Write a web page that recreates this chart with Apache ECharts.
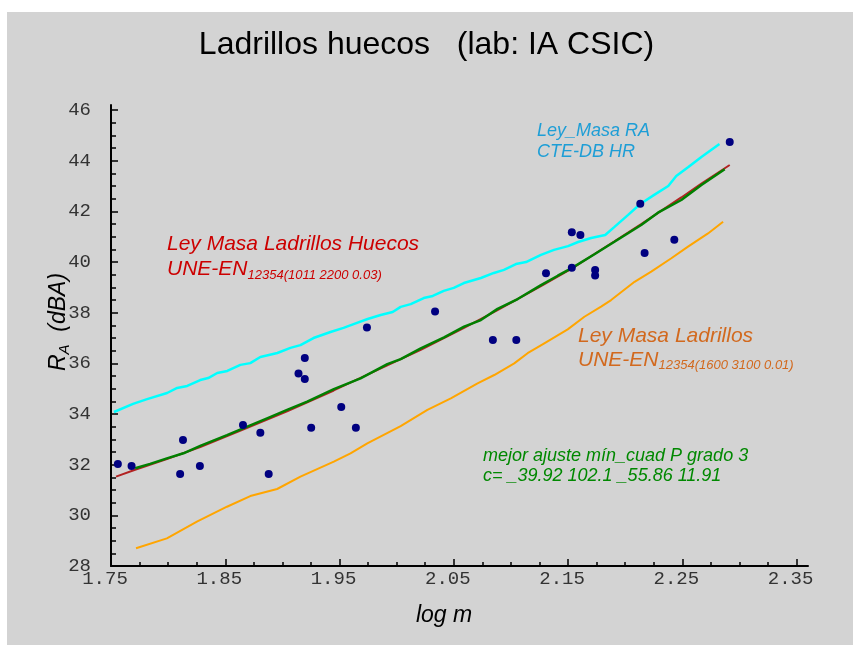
<!DOCTYPE html>
<html>
<head>
<meta charset="utf-8">
<title>Ladrillos huecos</title>
<script src="https://cdn.jsdelivr.net/npm/echarts@6/dist/echarts.min.js"></script>
<style>
  html, body { margin: 0; padding: 0; background: #fff; }
  #main { width: 853px; height: 645px; }
</style>
</head>
<body>
<div id="main"></div>
<script>
// ensayos de laboratorio: [log m, R_A dBA]
var medidas = [
  [1.756, 32.03], [1.768, 31.95], [1.8105, 31.63], [1.813, 32.97], [1.8278, 31.95],
  [1.8655, 33.57], [1.8807, 33.26], [1.888, 31.63], [1.9141, 35.6], [1.9196, 36.21],
  [1.9196, 35.38], [1.9252, 33.46], [1.9515, 34.28], [1.9643, 33.46], [1.974, 37.42],
  [2.0336, 38.05], [2.0842, 36.92], [2.1047, 36.92], [2.1307, 39.56], [2.1533, 41.18],
  [2.1533, 39.77], [2.1608, 41.07], [2.1737, 39.69], [2.1737, 39.47], [2.2132, 42.3],
  [2.217, 40.36], [2.243, 40.88], [2.2915, 44.74]
];

// Ley_Masa RA  CTE-DB HR
var leyCTE = [
  [1.7526, 34.08], [1.7693, 34.4], [1.7816, 34.59], [1.7991, 34.83], [1.8079, 35.03],
  [1.8167, 35.11], [1.8281, 35.34], [1.8351, 35.42], [1.843, 35.62], [1.8518, 35.7],
  [1.8632, 35.94], [1.8719, 36.01], [1.8807, 36.25], [1.8956, 36.41], [1.907, 36.61],
  [1.9158, 36.72], [1.9272, 37.0], [1.9421, 37.24], [1.9535, 37.4], [1.9623, 37.55],
  [1.9746, 37.75], [1.986, 37.91], [1.9965, 38.03], [2.0035, 38.23], [2.0123, 38.34],
  [2.0237, 38.58], [2.0316, 38.66], [2.0412, 38.86], [2.05, 38.98], [2.0588, 39.17],
  [2.0737, 39.37], [2.0851, 39.57], [2.0939, 39.69], [2.1044, 39.92], [2.1132, 40.0],
  [2.1263, 40.28], [2.1377, 40.48], [2.15, 40.63], [2.1588, 40.79], [2.1702, 40.95],
  [2.1825, 41.07], [2.1904, 41.38], [2.2026, 41.86], [2.2132, 42.29], [2.2254, 42.65],
  [2.2377, 43.0], [2.2447, 43.4], [2.2553, 43.75], [2.2667, 44.15], [2.2825, 44.66]
];

// Ley Masa Ladrillos UNE-EN 12354 (1600 3100 0.01)
var leyLadrillos = [
  [1.7719, 28.7], [1.7989, 29.09], [1.8252, 29.75], [1.8515, 30.34], [1.8719, 30.76],
  [1.8954, 31.04], [1.9158, 31.53], [1.945, 32.12], [1.9596, 32.45], [1.9743, 32.84],
  [2.0035, 33.52], [2.0269, 34.16], [2.0474, 34.62], [2.0708, 35.21], [2.0854, 35.54],
  [2.1029, 36.0], [2.1146, 36.4], [2.1292, 36.79], [2.1497, 37.34], [2.1643, 37.84],
  [2.1789, 38.24], [2.1877, 38.5], [2.2082, 39.22], [2.2228, 39.62], [2.2404, 40.15],
  [2.255, 40.61], [2.2725, 41.13], [2.2857, 41.59]
];

// Ley Masa Ladrillos Huecos UNE-EN 12354 (1011 2200 0.03)
var leyHuecos = [
  [1.7544, 31.53], [1.7711, 31.8], [1.7989, 32.22], [1.8281, 32.7], [1.8661, 33.4],
  [1.9041, 34.11], [1.945, 34.93], [1.9918, 35.92], [2.0211, 36.53], [2.059, 37.4],
  [2.0883, 38.1], [2.1263, 39.05], [2.1532, 39.74], [2.1906, 40.82], [2.214, 41.5],
  [2.2491, 42.55], [2.2667, 43.1], [2.2915, 43.83]
];

// mejor ajuste min_cuad P grado 3
var ajusteP3 = [
  [1.7711, 31.86], [1.7842, 32.03], [1.7989, 32.25], [1.8134, 32.45], [1.8281, 32.74],
  [1.8515, 33.17], [1.8661, 33.44], [1.8866, 33.83], [1.9041, 34.16], [1.9217, 34.49],
  [1.945, 34.98], [1.9684, 35.41], [1.9918, 35.97], [2.0035, 36.17], [2.0211, 36.59],
  [2.0415, 37.03], [2.059, 37.45], [2.0737, 37.71], [2.0883, 38.15], [2.1059, 38.54],
  [2.1263, 39.09], [2.141, 39.46], [2.1532, 39.76], [2.1731, 40.31], [2.1906, 40.8],
  [2.214, 41.46], [2.2287, 41.95], [2.2491, 42.45], [2.2667, 43.04], [2.2871, 43.66]
];

var xTicks = [1.75, 1.85, 1.95, 2.05, 2.15, 2.25, 2.35];
var yTicks = [28, 30, 32, 34, 36, 38, 40, 42, 44, 46];

// marcas menores entre las principales
function minorTicks(ticks, parts) {
  var out = [];
  for (var i = 0; i < ticks.length - 1; i++) {
    var step = (ticks[i + 1] - ticks[i]) / parts;
    for (var k = 1; k < parts; k++) {
      out.push(Math.round((ticks[i] + step * k) * 10000) / 10000);
    }
  }
  return out;
}

var FONT = 'Liberation Sans';
var MONO = 'Liberation Mono';

function lineSerie(name, data, color, width) {
  return {
    name: name,
    type: 'line',
    data: data,
    showSymbol: false,
    lineStyle: { color: color, width: width },
    silent: true
  };
}

function minorAxis(ticks, len) {
  return {
    type: 'value',
    axisLine: { show: false },
    axisTick: { inside: true, length: len, customValues: ticks, lineStyle: { color: '#000', width: 1.5 } },
    axisLabel: { show: false },
    splitLine: { show: false }
  };
}

var chart = echarts.init(document.getElementById('main'));

var xMinor = minorAxis(minorTicks(xTicks, 4), 4);
xMinor.min = 1.75; xMinor.max = 2.36; xMinor.position = 'bottom';
var yMinor = minorAxis(minorTicks(yTicks, 4), 5);
yMinor.min = 28; yMinor.max = 46.2; yMinor.position = 'left';

chart.setOption({
  backgroundColor: '#ffffff',
  animation: false,
  title: {
    text: 'Ladrillos huecos   (lab: IA CSIC)',
    left: 'center',
    top: 24,
    textStyle: { fontFamily: FONT, fontSize: 32, fontWeight: 'normal', color: '#000' }
  },
  grid: { left: 111, top: 105, right: 45, bottom: 79 },
  xAxis: [{
    type: 'value',
    min: 1.75,
    max: 2.36,
    position: 'bottom',
    axisLine: { onZero: false, lineStyle: { color: '#000', width: 2 } },
    axisTick: { inside: true, length: 7, customValues: xTicks, lineStyle: { color: '#000', width: 1.5 } },
    axisLabel: {
      customValues: xTicks,
      formatter: function (v) { return v.toFixed(2); },
      fontFamily: MONO, fontSize: 19, color: '#333', margin: 3,
      padding: [0, 12, 0, 0]
    },
    splitLine: { show: false }
  }, xMinor],
  yAxis: [{
    type: 'value',
    min: 28,
    max: 46.2,
    position: 'left',
    axisLine: { onZero: false, lineStyle: { color: '#000', width: 2 } },
    axisTick: { inside: true, length: 7, customValues: yTicks, lineStyle: { color: '#000', width: 1.5 } },
    axisLabel: {
      customValues: yTicks,
      fontFamily: MONO, fontSize: 19, color: '#333', margin: 20,
      padding: [12, 0, 0, 0]
    },
    splitLine: { show: false }
  }, yMinor],
  series: [
    lineSerie('Ley_Masa RA CTE-DB HR', leyCTE, '#00ffff', 2.5),
    lineSerie('Ley Masa Ladrillos', leyLadrillos, '#ffa500', 2),
    lineSerie('Ley Masa Ladrillos Huecos', leyHuecos, '#b22222', 2),
    lineSerie('mejor ajuste', ajusteP3, '#008000', 2.5),
    {
      name: 'medidas',
      type: 'scatter',
      data: medidas,
      symbolSize: 8,
      itemStyle: { color: '#000080', opacity: 1 },
      z: 5
    }
  ],
  graphic: [
    { type: 'rect', z: -10, shape: { x: 7, y: 12, width: 846, height: 633 }, style: { fill: '#d3d3d3' } },
    {
      type: 'text', x: 59, y: 322, rotation: Math.PI / 2,
      style: {
        text: '{r|R}{s|A}{r|  (dBA)}',
        align: 'center', verticalAlign: 'middle',
        rich: {
          r: { fontFamily: FONT, fontStyle: 'italic', fontSize: 23, fill: '#000', lineHeight: 26 },
          s: { fontFamily: FONT, fontStyle: 'italic', fontSize: 15, fill: '#000', lineHeight: 15, verticalAlign: 'bottom' }
        }
      }
    },
    {
      type: 'text', x: 444, y: 616,
      style: { text: 'log m', fontFamily: FONT, fontStyle: 'italic', fontSize: 23, fill: '#000', align: 'center', verticalAlign: 'middle' }
    },
    {
      type: 'text', x: 537, y: 120,
      style: {
        text: 'Ley_Masa RA\nCTE-DB HR',
        fontFamily: FONT, fontStyle: 'italic', fontSize: 18, lineHeight: 21, fill: '#1e9ed6'
      }
    },
    {
      type: 'text', x: 167, y: 232,
      style: {
        text: '{a|Ley Masa Ladrillos Huecos}\n{a|UNE-EN}{b|12354(1011 2200 0.03)}',
        rich: {
          a: { fontFamily: FONT, fontStyle: 'italic', fontSize: 21, lineHeight: 25, fill: '#cc0000' },
          b: { fontFamily: FONT, fontStyle: 'italic', fontSize: 13, lineHeight: 13, fill: '#cc0000', verticalAlign: 'bottom' }
        }
      }
    },
    {
      type: 'text', x: 578, y: 324,
      style: {
        text: '{a|Ley Masa Ladrillos}\n{a|UNE-EN}{b|12354(1600 3100 0.01)}',
        rich: {
          a: { fontFamily: FONT, fontStyle: 'italic', fontSize: 21, lineHeight: 24, fill: '#d2691e' },
          b: { fontFamily: FONT, fontStyle: 'italic', fontSize: 13, lineHeight: 13, fill: '#d2691e', verticalAlign: 'bottom' }
        }
      }
    },
    {
      type: 'text', x: 483, y: 446,
      style: {
        text: 'mejor ajuste mín_cuad P grado 3\nc= _39.92 102.1 _55.86 11.91',
        fontFamily: FONT, fontStyle: 'italic', fontSize: 18, lineHeight: 20, fill: '#008800'
      }
    }
  ]
});
</script>
</body>
</html>
